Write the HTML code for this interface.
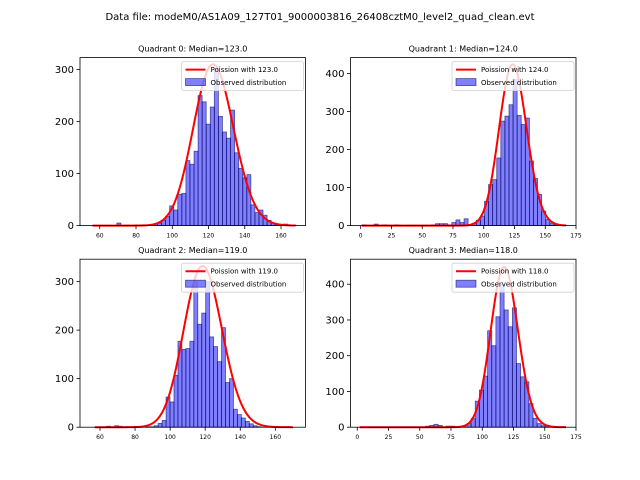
<!DOCTYPE html>
<html><head><meta charset="utf-8">
<style>
html,body{margin:0;padding:0;background:#fff;}
svg{display:block;font-family:"DejaVu Sans","Liberation Sans",sans-serif;}
</style></head>
<body>
<svg id="fig" width="640" height="480" viewBox="0 0 640 480">
<text x="320" y="20" text-anchor="middle" font-size="10">Data file: modeM0/AS1A09_127T01_9000003816_26408cztM0_level2_quad_clean.evt</text>
</svg>
<script>
// ---- data ----
const titles = ["Quadrant 0: Median=123.0","Quadrant 1: Median=124.0","Quadrant 2: Median=119.0","Quadrant 3: Median=118.0"];
const medians = [123,124,119,118];
const curvePeak = [310,424,332,448];
const binLo = [56,1,57,2];
const binWidth = [2.24,3.32,2.26,3.3];
const counts0 = [0,0,0,0,0,0,5,0,1,0,1,1,0,0,2,3,5,10,18,38,30,60,62,125,118,143,250,238,195,228,300,210,180,168,222,140,110,92,98,40,25,30,20,10,5,3,2,3,1,1];
const counts1 = [2,1,1,4,1,2,1,1,2,1,0,1,1,1,1,1,1,2,5,5,5,2,8,15,8,18,3,6,14,25,64,108,121,178,275,288,318,385,290,266,283,170,124,82,38,16,7,3,1,0];
const counts2 = [0,0,0,2,0,3,2,0,0,0,0,0,0,1,1,3,8,14,62,52,107,177,160,162,177,300,212,235,300,186,166,135,205,92,100,37,26,19,12,7,3,1,0,0,0,0,0,0,0,0];
const counts3 = [0,0,0,0,0,0,0,0,0,0,0,0,0,0,0,0,3,5,8,5,1,3,3,2,0,1,10,24,73,104,143,270,228,309,400,328,281,334,178,141,127,66,25,10,4,1,0,0,0,0];
const yTicks0 = [0,100,200,300], yTicks1 = [0,100,200,300,400], yTicks2 = [0,100,200,300], yTicks3 = [0,100,200,300,400];
const xTicks0 = [60,80,100,120,140,160], xTicks1 = [0,25,50,75,100,125,150,175], xTicks2 = [60,80,100,120,140,160], xTicks3 = [0,25,50,75,100,125,150,175];
const legendLine = ["Poission with 123.0","Poission with 124.0","Poission with 119.0","Poission with 118.0"];

const allCounts=[counts0,counts1,counts2,counts3];
const allY=[yTicks0,yTicks1,yTicks2,yTicks3];
const allX=[xTicks0,xTicks1,xTicks2,xTicks3];
const xlims=[[49.1,173.5],[-8.3,175],[48.6,177.2],[-5.4,175]];
const ylims=[323,442,346,470];
const boxes=[[80,57.6],[350.5,57.6],[80,259.2],[350.5,259.2]];
const W=225.5,H=168;
const NS="http://www.w3.org/2000/svg";
const svg=document.getElementById('fig');
function mk(tag,attrs,parent){const e=document.createElementNS(NS,tag);for(const k in attrs)e.setAttribute(k,attrs[k]);(parent||svg).appendChild(e);return e;}
function logFact(k){let s=0;for(let i=2;i<=k;i++)s+=Math.log(i);return s;}
function pois(k,l){return Math.exp(k*Math.log(l)-l-logFact(k));}

for(let q=0;q<4;q++){
  const [bx,by]=boxes[q];
  const [x0,x1]=xlims[q]; const yMax=ylims[q];
  const xs=v=>bx+(v-x0)/(x1-x0)*W;
  const ys=v=>by+H-v/yMax*H;
  const g=mk('g',{});
  
  
  const t=mk('text',{x:bx+W/2,y:by-6,'text-anchor':'middle','font-size':'8'},g);
  t.textContent=titles[q];
  
  
  const cnt=allCounts[q], lo=binLo[q], w=binWidth[q];
  cnt.forEach((c,i)=>{
    if(c<=0)return;
    const r=mk('rect',{x:xs(lo+i*w),y:ys(c),width:xs(lo+(i+1)*w)-xs(lo+i*w),height:ys(0)-ys(c),fill:'rgba(0,0,255,0.5)',stroke:'rgba(0,0,80,0.6)','stroke-width':'0.8'},g);
    
    
  });
  // poisson curve scaled to observed peak
  const lam=medians[q];
  const scale=curvePeak[q]/pois(Math.floor(lam),lam);
  const pts=[];
  const kStart=Math.ceil(lo), kEnd=Math.floor(lo+cnt.length*w);
  for(let k=kStart;k<=kEnd;k++){pts.push(xs(k).toFixed(2)+','+ys(scale*pois(k,lam)).toFixed(2));}
  const pl=mk('polyline',{points:pts.join(' '),fill:'none',stroke:'#ff0000','stroke-width':'2'},g);
  
  
  const fr=mk('rect',{x:bx,y:by,width:W,height:H,fill:'none',stroke:'#000','stroke-width':'0.8'},g);
  
  
  allY[q].forEach(v=>{
    const y=ys(v);
    mk('line',{x1:bx-3.5,x2:bx,y1:y,y2:y,stroke:'#000','stroke-width':'0.8'},g);
    const tt=mk('text',{x:bx-6,y:y+3.5,'text-anchor':'end','font-size':'10'},g);
    tt.textContent=v;
    
    
  });
  allX[q].forEach(v=>{
    const x=xs(v);
    mk('line',{x1:x,x2:x,y1:by+H,y2:by+H+3.5,stroke:'#000','stroke-width':'0.8'},g);
    const tt=mk('text',{x:x,y:by+H+12,'text-anchor':'middle','font-size':'6'},g);
    tt.textContent=v;
    
    
  });
  const lx=bx+W-124, ly=by+4;
  const lg=mk('g',{},g);
  
  
  mk('rect',{x:lx,y:ly,width:122,height:29,rx:2,fill:'rgba(255,255,255,0.8)',stroke:'#d0d0d0','stroke-width':'0.8'},lg);
  mk('line',{x1:lx+4,x2:lx+24,y1:ly+8,y2:ly+8,stroke:'#ff0000','stroke-width':'2'},lg);
  const l1=mk('text',{x:lx+29,y:ly+10.5,'font-size':'7'},lg);
  l1.textContent=legendLine[q];
  
  
  mk('rect',{x:lx+4,y:ly+17,width:20,height:7,fill:'rgba(0,0,255,0.5)',stroke:'rgba(0,0,80,0.6)','stroke-width':'0.8'},lg);
  const l2=mk('text',{x:lx+29,y:ly+23.5,'font-size':'7'},lg);
  l2.textContent='Observed distribution';
  
  
}
</script>
</body></html>
